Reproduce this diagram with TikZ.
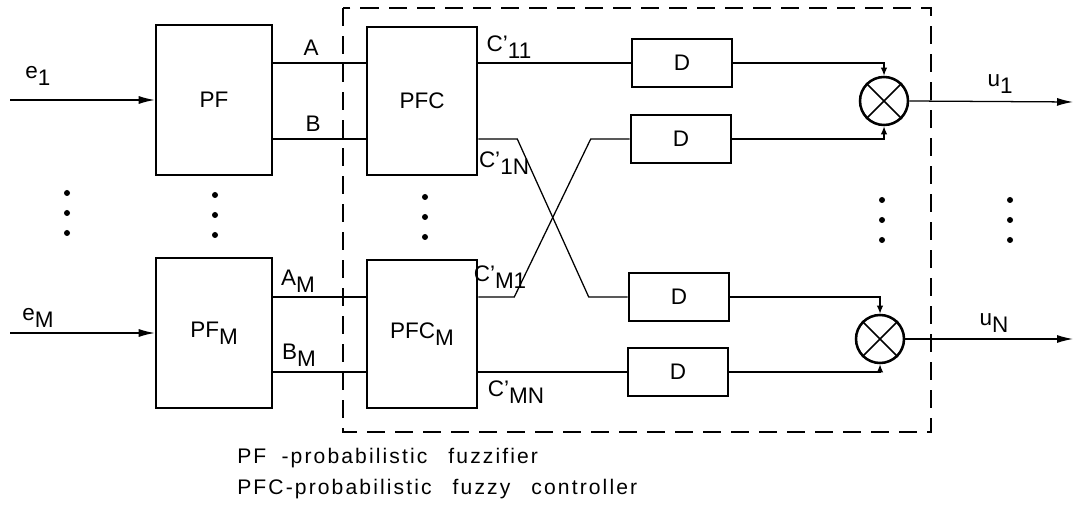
\documentclass[tikz,border=0pt]{standalone}
\usepackage{fontspec}
\setmainfont{Liberation Sans}
\usetikzlibrary{arrows.meta, positioning}
\newcommand{\lo}[1]{\raisebox{-0.55ex}{#1}}

\begin{document}
\begin{tikzpicture}[x=0.025cm, y=-0.025cm,
    font=\fontsize{16}{19}\selectfont,
    block/.style={rectangle, draw, line width=1.8pt, minimum width=2.9cm, minimum height=3.75cm, inner sep=0pt},
    ctrl/.style={rectangle, draw, line width=1.8pt, minimum width=2.75cm, minimum height=3.7cm, inner sep=0pt},
    delay/.style={rectangle, draw, line width=1.8pt, minimum width=2.5cm, minimum height=1.2cm},
    mult/.style={circle, draw, line width=1.8pt, minimum size=1.2cm, inner sep=0pt},
    line/.style={line width=0.9pt},
    arrow/.style={-{Latex[length=4mm, width=2mm]}, line width=0.9pt},
    tip/.style={-{Latex[length=2mm, width=1.6mm]}, line width=0.9pt},
    frame/.style={line width=0.9pt, dash pattern=on 4.5mm off 2.5mm},
    dot/.style={circle, fill, inner sep=0pt, minimum size=1.5mm}
]
\useasboundingbox (0,0) rectangle (1075,510);

% Fuzzifiers
\node[block] (pf) at (214,100) {PF};
\node[block] (pfm) at (214,333) {PF\lo{M}};

% Controllers
\node[ctrl] (pfc) at (422,101) {PFC};
\node[ctrl] (pfcm) at (422,334) {PFC\lo{M}};

% Delays
\node[delay] (d1) at (682,63) {D};
\node[delay] (d2) at (681,139) {D};
\node[delay] (d3) at (679,297) {D};
\node[delay] (d4) at (678,372) {D};

% Multipliers
\node[mult] (m1) at (884,101) {};
\node[mult] (m2) at (880,339) {};
\draw[line width=1.2pt] (m1.north west) -- (m1.south east) (m1.north east) -- (m1.south west);
\draw[line width=1.2pt] (m2.north west) -- (m2.south east) (m2.north east) -- (m2.south west);

% Inputs and outputs
\coordinate (in1) at (10,100);
\coordinate (inm) at (10,333);
\coordinate (out1) at (1073,102);
\coordinate (outn) at (1073,339);

% Controller boundary
\draw[frame] (343,8) rectangle (931,432);

% Arrows
\draw[arrow] (in1) -- (pf.west);
\draw[arrow] (inm) -- (pfm.west);
\draw[line] (pf.east |- d1) -- (pfc.west |- d1);
\draw[line] (pf.east |- d2) -- (pfc.west |- d2);
\draw[line] (pfm.east |- d3) -- (pfcm.west |- d3);
\draw[line] (pfm.east |- d4) -- (pfcm.west |- d4);
\draw[line] (pfc.east |- d1) -- (d1.west);
\draw[line] (pfc.east |- d2) -- ++(39,0) -- ([xshift=-0.975cm]d3.west) -- (d3.west);
\draw[line] (pfcm.east |- d3) -- ++(36,0) -- ([xshift=-0.975cm]d2.west) -- (d2.west);
\draw[line] (pfcm.east |- d4) -- (d4.west);
\draw[tip] (d1.east) -| (m1.north);
\draw[tip] (d2.east) -| (m1.south);
\draw[tip] (d3.east) -| (m2.north);
\draw[tip] (d4.east) -| (m2.south);
\draw[arrow] (m1.east) -- (out1);
\draw[arrow] (m2.east) -- (outn);

% Labels
\node (le1) at (38,76) {e\lo{1}};
\node (lem) at (38,318) {e\lo{M}};
\node (la) at (311,48) {A};
\node (lb) at (313,124) {B};
\node (lam) at (298,281) {A\lo{M}};
\node (lbm) at (299,355) {B\lo{M}};
\node (lc11) at (509,47) {C'\lo{11}};
\node (lc1n) at (504,163) {C'\lo{1N}};
\node (lcm1) at (500,277) {C'\lo{M1}};
\node (lcmn) at (516,392) {C'\lo{MN}};
\node (lu1) at (1000,84) {u\lo{1}};
\node (lun) at (994,323) {u\lo{N}};

% Dots
\foreach \x/\y [count=\c] in {67/193, 215/195, 425/197, 882/200, 1010/200}
  \foreach \k in {0,1,2}
    \node[dot] (dot\c\k) at (\x,\y+20*\k) {};

% Legend
\node[anchor=north west, align=left, inner sep=0pt, font=\fontsize{15}{18}\selectfont\addfontfeature{LetterSpace=10}] (legend) at (237,448)
  {PF\hphantom{C}-probabilistic\quad fuzzifier\\[4pt]PFC-probabilistic\quad fuzzy\quad controller};

\end{tikzpicture}
\end{document}
